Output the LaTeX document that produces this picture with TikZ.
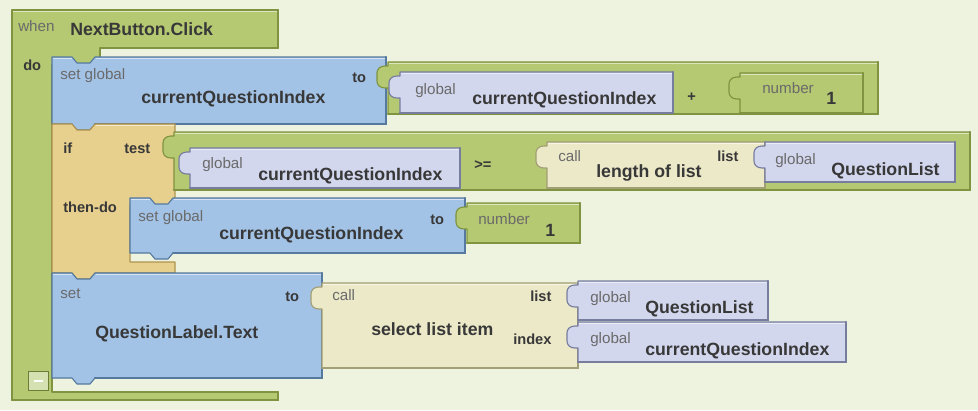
\documentclass[tikz,border=0pt]{standalone}
\usepackage{fontspec}
\newfontfamily\blkfont{Liberation Sans}
\usetikzlibrary{positioning}
\definecolor{bgcol}{HTML}{EEF3DF}
\definecolor{grfill}{HTML}{B5C872}
\definecolor{grline}{HTML}{7F9340}
\definecolor{blfill}{HTML}{A3C3E6}
\definecolor{blline}{HTML}{55799F}
\definecolor{lvfill}{HTML}{D3D7EE}
\definecolor{lvline}{HTML}{767D9E}
\definecolor{tnfill}{HTML}{E7CF8E}
\definecolor{tnline}{HTML}{AE9450}
\definecolor{cafill}{HTML}{ECE9C9}
\definecolor{caline}{HTML}{A29E76}
\definecolor{txtdark}{HTML}{383838}
\definecolor{txtgray}{HTML}{6A6A6A}
\tikzset{blk/.style 2 args={fill=#1, draw=#2, line width=0.8pt, line join=round}}
\tikzset{shade/.style={line width=1.6pt, line cap=round}}
\tikzset{shine/.style={white, opacity=0.55, line width=0.9pt}}
\tikzset{big/.style={font=\blkfont\bfseries\fontsize{12.6}{14}\selectfont,
                     text=txtdark, inner sep=0pt, anchor=base west}}
\tikzset{lbl/.style={font=\blkfont\bfseries\fontsize{10.4}{12}\selectfont,
                     text=txtdark, inner sep=0pt, anchor=base west}}
\tikzset{tag/.style={font=\blkfont\fontsize{10.8}{12}\selectfont,
                     text=txtgray, inner sep=0pt, anchor=base west}}
% statement block: dent on top, tab below
\newcommand{\stmtblock}[6]{%
  \path[blk={#1}{#2}] (#3,#4) -- (#3+20,#4) -- (#3+25,#4+6) -- (#3+38,#4+6) -- (#3+43,#4)
    -- (#5,#4) -- (#5,#6) -- (#3+43,#6) -- (#3+38,#6+6) -- (#3+25,#6+6)
    -- (#3+20,#6) -- (#3,#6) -- cycle;
  \draw[shine] (#3+1,#4+1.3) -- (#3+19.5,#4+1.3) (#3+43.5,#4+1.3) -- (#5-1,#4+1.3);
  \draw[#2, shade] (#3+43,#6) -- (#5,#6) -- (#5,#4);}
% value block: puzzle tab on the left
\newcommand{\valblock}[6]{%
  \path[blk={#1}{#2}] (#3,#4) -- (#5,#4) -- (#5,#6) -- (#3,#6) -- (#3,#4+26) -- (#3-3,#4+26)
    .. controls (#3-8,#4+26) and (#3-11,#4+23) .. (#3-11,#4+19) -- (#3-11,#4+11)
    .. controls (#3-11,#4+7) and (#3-8,#4+4) .. (#3-3,#4+4) -- (#3,#4+4) -- cycle;
  \draw[shine] (#3+1,#4+1.3) -- (#5-1,#4+1.3);
  \draw[#2, shade] (#3,#6) -- (#5,#6) -- (#5,#4);}
\begin{document}
\begin{tikzpicture}[x=0.025cm, y=-0.025cm]
  \fill[bgcol] (0,0) rectangle (978,410);
  % event block
  \path[blk={grfill}{grline}] (12,10) -- (278,10) -- (278,48) -- (100,48) -- (100,65)
    -- (52,65) -- (52,392) -- (278,392) -- (278,400) -- (12,400) -- cycle;
  \draw[shine] (13,11.3) -- (277,11.3);
  \draw[grline, shade] (12,400) -- (278,400) -- (278,392);
  \draw[grline, shade] (278,10) -- (278,48);
  \draw[fill=grfill!55!white, draw=grline!85!black, line width=0.6pt] (28,371) rectangle (48,390);
  \draw[white, line width=1.6pt] (34,381) -- (43,381);
  \node[tag] (whenlbl) at (18,31) {when};
  \node[big] (evname) at (70,35) {NextButton.Click};
  \node[lbl] (dolbl) at (23,70) {do};

  % set global currentQuestionIndex to (... + 1)
  \stmtblock{blfill}{blline}{52}{57}{386}{124}
  \valblock{grfill}{grline}{388}{62}{878}{114}
  \valblock{lvfill}{lvline}{400}{72}{673}{113}
  \valblock{grfill}{grline}{740}{73}{863}{113}
  \node[tag] (setg1) at (60,79) {set global};
  \node[big] (var1) at (141,103) {currentQuestionIndex};
  \node[lbl] (to1) at (352,82) {to};
  \node[tag] (glob1) at (415,94) {global};
  \node[big] (var2) at (472,104) {currentQuestionIndex};
  \node[lbl] (plus) at (687,101) {+};
  \node[tag] (num1) at (762,93) {number};
  \node[big] (one1) at (826,104) {1};

  % if block
  \path[blk={tnfill}{tnline}] (52,124) -- (72,124) -- (77,130) -- (90,130) -- (95,124)
    -- (175,124) -- (175,205) -- (130,205) -- (130,262) -- (175,262) -- (175,273)
    -- (95,273) -- (90,279) -- (77,279) -- (72,273) -- (52,273) -- cycle;
  \draw[shine] (96,125.3) -- (174,125.3);
  \valblock{grfill}{grline}{174}{132}{970}{190}
  \valblock{lvfill}{lvline}{190}{148}{460}{188}
  \valblock{cafill}{caline}{547}{142}{765}{188}
  \valblock{lvfill}{lvline}{765}{142}{955}{182}
  \node[lbl] (iflbl) at (63,153) {if};
  \node[lbl] (testlbl) at (124,153) {test};
  \node[lbl] (thenlbl) at (63,212) {then-do};
  \node[tag] (glob2) at (202,168) {global};
  \node[big] (var3) at (258,180) {currentQuestionIndex};
  \node[lbl] (geq) at (474,169) {>=};
  \node[tag] (call1) at (558,161) {call};
  \node[big] (lenlist) at (596,177) {length of list};
  \node[lbl] (list1) at (717,161) {list};
  \node[tag] (glob3) at (775,164) {global};
  \node[big] (qlist1) at (831,175) {QuestionList};

  \stmtblock{blfill}{blline}{130}{198}{465}{253}
  \valblock{grfill}{grline}{467}{203}{580}{243}
  \node[tag] (setg2) at (138,221) {set global};
  \node[big] (var4) at (219,239) {currentQuestionIndex};
  \node[lbl] (to2) at (430,224) {to};
  \node[tag] (num2) at (478,224) {number};
  \node[big] (one2) at (545,236) {1};

  % set QuestionLabel.Text
  \stmtblock{blfill}{blline}{52}{273}{322}{378}
  \valblock{cafill}{caline}{322}{283}{578}{368}
  \valblock{lvfill}{lvline}{578}{281}{768}{320}
  \valblock{lvfill}{lvline}{578}{322}{846}{362}
  \node[tag] (setlbl) at (60,298) {set};
  \node[lbl] (to3) at (285,301) {to};
  \node[big] (qlabel) at (95,338) {QuestionLabel.Text};
  \node[tag] (call2) at (332,300) {call};
  \node[big] (selitem) at (371,335) {select list item};
  \node[lbl] (list2) at (530,301) {list};
  \node[lbl] (idxlbl) at (513,344) {index};
  \node[tag] (glob4) at (590,302) {global};
  \node[big] (qlist2) at (645,313) {QuestionList};
  \node[tag] (glob5) at (590,343) {global};
  \node[big] (var5) at (645,355) {currentQuestionIndex};
\end{tikzpicture}
\end{document}
